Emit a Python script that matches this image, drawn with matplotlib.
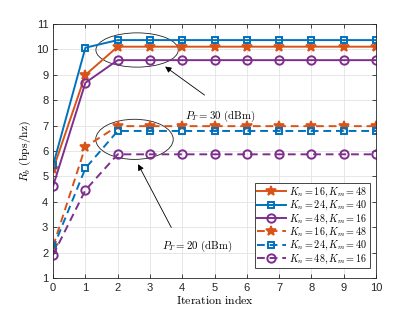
import matplotlib
matplotlib.use("Agg")
import matplotlib.pyplot as plt
from matplotlib.patches import Ellipse

plt.rcParams['font.family'] = ['Liberation Sans', 'DejaVu Sans']
plt.rcParams['mathtext.fontset'] = 'cm'

iters = list(range(11))

# P_T = 30 dBm (solid)
r30_16_48 = [5.28, 9.00] + [10.11] * 9
r30_24_40 = [5.45, 10.07] + [10.37] * 9
r30_48_16 = [4.62, 8.69] + [9.58] * 9
# P_T = 20 dBm (dashed)
r20_16_48 = [2.25, 6.17] + [6.98] * 9
r20_24_40 = [2.17, 5.32] + [6.79] * 9
r20_48_16 = [1.91, 4.46] + [5.87] * 9

labels = [r'$K_n=16, K_m=48$', r'$K_n=24, K_m=40$', r'$K_n=48, K_m=16$']
c_orange, c_blue, c_purple = '#D95319', '#0072BD', '#7E2F8E'

fig = plt.figure(figsize=(4.15, 3.13), dpi=100)
ax = fig.add_axes([0.128, 0.112, 0.778, 0.811])

star = dict(marker='*', markersize=7.5, markeredgewidth=1.2)
sq = dict(marker='s', markersize=4.6, markerfacecolor='none', markeredgewidth=1.4)
circ = dict(marker='o', markersize=6, markerfacecolor='none', markeredgewidth=1.4)

lw = 1.4
dash = (4, 2.5)
ax.plot(iters, r30_16_48, '-', color=c_orange, lw=lw, label=labels[0], **star)
ax.plot(iters, r30_24_40, '-', color=c_blue, lw=lw, label=labels[1], **sq)
ax.plot(iters, r30_48_16, '-', color=c_purple, lw=lw, label=labels[2], **circ)
ax.plot(iters, r20_16_48, '--', color=c_orange, lw=lw, dashes=dash, label=labels[0], **star)
ax.plot(iters, r20_24_40, '--', color=c_blue, lw=lw, dashes=dash, label=labels[1], **sq)
ax.plot(iters, r20_48_16, '--', color=c_purple, lw=lw, dashes=dash, label=labels[2], **circ)

ax.add_patch(Ellipse((2.6, 9.98), 2.55, 1.35, fill=False, ec='#222222', lw=0.6))
ax.add_patch(Ellipse((2.52, 6.46), 2.4, 1.58, fill=False, ec='#222222', lw=0.6))

arrow = dict(arrowstyle='-|>', color='black', lw=0.6, mutation_scale=9)
ax.annotate('', xy=(3.4, 9.39), xytext=(4.76, 8.14), arrowprops=arrow)
ax.annotate('', xy=(2.59, 5.58), xytext=(3.7, 2.89), arrowprops=arrow)
ax.text(4.09, 7.35, r'$P_T=30\ \mathrm{(dBm)}$', fontsize=7.8, va='center', ha='left')
ax.text(3.37, 2.23, r'$P_T=20\ \mathrm{(dBm)}$', fontsize=7.8, va='center', ha='left')

ax.set_xlim(0, 10)
ax.set_ylim(1, 11)
ax.set_xticks(range(0, 11))
ax.set_yticks(range(1, 12))
ax.tick_params(direction='in', top=True, right=True, labelsize=8, length=3, width=0.6, colors='#262626')
ax.grid(True, color='#e3e3e3', lw=0.6)
ax.set_axisbelow(True)
for s in ax.spines.values():
    s.set_linewidth(0.6)
    s.set_color('#262626')

ax.set_xlabel(r'$\mathrm{Iteration\ index}$', fontsize=8.5, labelpad=1)
ax.set_ylabel(r'$R_b\ \mathrm{(bps/hz)}$', fontsize=8.5, labelpad=2)

leg = ax.legend(loc='lower right', fontsize=7.3, handlelength=2.9, handletextpad=0.3,
                labelspacing=0.0, borderpad=0.2, borderaxespad=0.0, fancybox=False,
                framealpha=1, edgecolor='#262626', bbox_to_anchor=(0.98, 0.04))
leg.get_frame().set_linewidth(0.6)

fig.savefig('out.png', dpi=100)
